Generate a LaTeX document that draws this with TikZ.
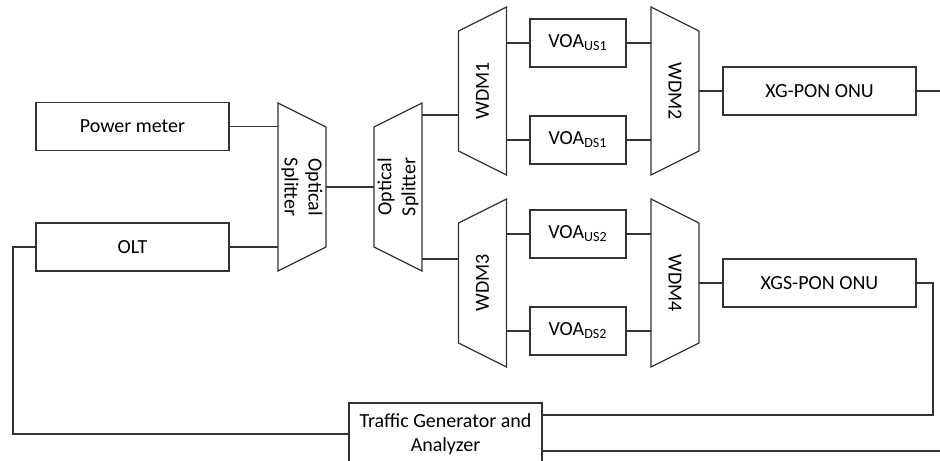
\documentclass[tikz,border=0pt]{standalone}
\usepackage{fontspec}
\setmainfont{Carlito}
\usetikzlibrary{calc}

\tikzset{
  line/.style={draw=black!80, line width=0.6pt},
  box/.style={line, rectangle, minimum width=96.5pt, minimum height=24pt,
    inner sep=0pt, outer sep=0pt, font=\fontsize{10}{12}\selectfont},
  voa/.style={box, minimum width=48pt},
  trap/.style={rectangle, minimum width=84pt, minimum height=24pt,
    inner sep=0pt, outer sep=0pt, align=center,
    font=\fontsize{10}{12}\selectfont}
}

\begin{document}
\begin{tikzpicture}[x=0.5pt, y=0.5pt]
  \useasboundingbox (0,0) rectangle (940,460);
  \clip (0,0) rectangle (940,460);

  % sources
  \node[box] (pm) at (132.5,333.5) {Power meter};
  \node[box] (olt) at (132.5,213) {OLT};

  % splitters
  \node[trap, rotate=-90] (sp1) at (302,273) {Optical\\Splitter};
  \node[trap, rotate=90] (sp2) at (398,273) {Optical\\Splitter};

  % upper branch
  \node[trap, rotate=90] (wdm1) at (482.5,369) {WDM1};
  \node[trap, rotate=-90] (wdm2) at (675,369) {WDM2};
  \node[voa] (voaus1) at (578,417) {VOA\textsubscript{US1}};
  \node[voa] (voads1) at (578,320) {VOA\textsubscript{DS1}};
  \node[box] (xg) at (819.5,369) {XG-PON ONU};

  % lower branch
  \node[trap, rotate=90] (wdm3) at (482.5,177) {WDM3};
  \node[trap, rotate=-90] (wdm4) at (675,177) {WDM4};
  \node[voa] (voaus2) at (578,226) {VOA\textsubscript{US2}};
  \node[voa] (voads2) at (578,129) {VOA\textsubscript{DS2}};
  \node[box] (xgs) at (819.5,177) {XGS-PON ONU};

  % tester
  \node[box, minimum height=31pt, align=center] (tg) at (445.5,26)
    {Traffic Generator and\\Analyzer};

  % trapezoid outlines, long side = south
  \foreach \t in {sp1,sp2,wdm1,wdm2,wdm3,wdm4}
    \draw[line] (\t.south west) -- (\t.south east)
      -- ($(\t.north east)!1/7!(\t.north west)$)
      -- ($(\t.north west)!1/7!(\t.north east)$) -- cycle;

  \coordinate (xgout) at (940,369);
  \coordinate (xgsturn) at (933,45);
  \coordinate (tgout) at (940,9);
  \coordinate (oltturn) at (13,213);

  \draw[line] (pm.east) -- (pm.east -| sp1.south);
  \draw[line] (olt.east) -- (olt.east -| sp1.south);
  \draw[line] (sp1.north) -- (sp2.north);
  \draw[line] ([yshift=36pt]sp2.south) -- ([yshift=36pt]sp2.south -| wdm1.north);
  \draw[line] ([yshift=-36pt]sp2.south) -- ([yshift=-36pt]sp2.south -| wdm3.north);

  \foreach \v/\a/\b in {voaus1/wdm1/wdm2, voads1/wdm1/wdm2,
                        voaus2/wdm3/wdm4, voads2/wdm3/wdm4} {
    \draw[line] (\v.west -| \a.south) -- (\v.west);
    \draw[line] (\v.east) -- (\v.east -| \b.south);
  }

  \draw[line] (wdm2.north) -- (wdm2.north -| xg.west);
  \draw[line] (wdm4.north) -- (wdm4.north -| xgs.west);
  \draw[line] (xg.east) -- (xgout);
  \draw[line] (xgs.east) -| (xgsturn) -- (xgsturn -| tg.east);
  \draw[line] (tgout -| tg.east) -- (tgout);
  \draw[line] (tg.west) -| (oltturn) -- (olt.west);
\end{tikzpicture}
\end{document}
